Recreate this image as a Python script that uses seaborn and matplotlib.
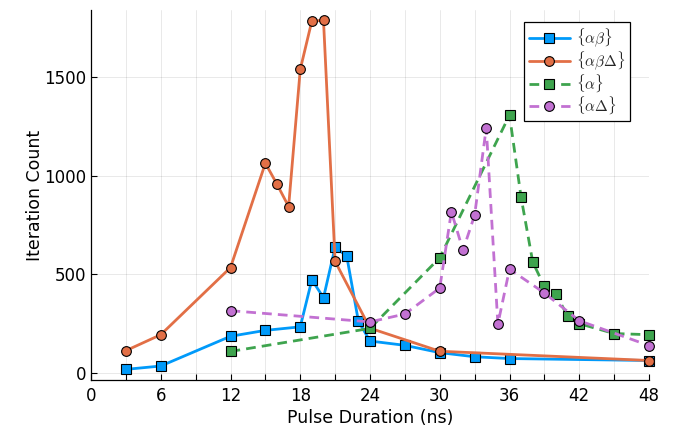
import matplotlib
matplotlib.use("Agg")
import matplotlib.pyplot as plt
import seaborn as sns
import numpy as np
from matplotlib.ticker import MultipleLocator

# Data
x_ab = [3, 6, 12, 15, 18, 19, 20, 21, 22, 23, 24, 27, 30, 33, 36, 48]
y_ab = [16, 33, 184, 214, 232, 471, 380, 637, 591, 261, 160, 138, 101, 80, 71, 61]

x_abd = [3, 6, 12, 15, 16, 17, 18, 19, 20, 21, 24, 30, 48]
y_abd = [111, 192, 533, 1063, 956, 843, 1539, 1786, 1788, 564, 225, 108, 61]

x_a = [12, 24, 30, 36, 37, 38, 39, 40, 41, 42, 45, 48]
y_a = [107, 224, 583, 1307, 889, 561, 437, 400, 285, 248, 198, 192]

x_ad = [12, 24, 27, 30, 31, 32, 33, 34, 35, 36, 39, 42, 48]
y_ad = [314, 257, 297, 429, 817, 621, 799, 1243, 246, 525, 404, 263, 137]

labels = [r"$\{\alpha\beta\}$", r"$\{\alpha\beta\Delta\}$", r"$\{\alpha\}$", r"$\{\alpha\Delta\}$"]
colors = ["#009AFA", "#E26F46", "#3EA44E", "#C271D2"]

sns.set_theme(style="white")
plt.rcParams["font.family"] = ["DejaVu Sans"]
plt.rcParams["mathtext.fontset"] = "cm"

fig, ax = plt.subplots(figsize=(6.76, 4.30), dpi=100)
fig.subplots_adjust(left=91/676, right=649/676, top=1-10/430, bottom=1-380/430)

series = [
    (x_ab, y_ab, "s", None),
    (x_abd, y_abd, "o", None),
    (x_a, y_a, "s", (3.5, 2.2)),
    (x_ad, y_ad, "o", (3.5, 2.2)),
]
for (xs, ys, mk, dash), lab, col in zip(series, labels, colors):
    sns.lineplot(x=xs, y=ys, ax=ax, color=col, marker=mk, markersize=7,
                 markeredgecolor="black", markeredgewidth=0.8, linewidth=2,
                 label=lab, clip_on=False, sort=False)
    line = ax.lines[-1]
    if dash is not None:
        line.set_dashes(dash)

ax.set_xlim(0, 48)
ax.set_ylim(-38, 1841)
ax.xaxis.set_major_locator(MultipleLocator(6))
ax.xaxis.set_minor_locator(MultipleLocator(3))
ax.yaxis.set_major_locator(MultipleLocator(500))
ax.grid(True, which="both", color="black", alpha=0.1, linewidth=0.6)
ax.tick_params(axis="both", which="both", direction="in", length=4, width=0.8,
               colors="black", labelsize=12, bottom=True, left=True)
ax.tick_params(axis="x", pad=5)
for s in ["top", "right"]:
    ax.spines[s].set_visible(False)
for s in ["left", "bottom"]:
    ax.spines[s].set_color("black")
    ax.spines[s].set_linewidth(0.9)

ax.set_xlabel("Pulse Duration (ns)", fontsize=12.5, color="black", labelpad=3)
ax.set_ylabel("Iteration Count", fontsize=12.5, color="black", labelpad=0)

leg = ax.legend(loc="upper right", bbox_to_anchor=(0.966, 0.968), fontsize=11,
                frameon=True, fancybox=False, framealpha=1, edgecolor="black",
                handlelength=2.7, borderpad=0.3, labelspacing=0.0, handletextpad=0.4,
                borderaxespad=0)
leg.get_frame().set_linewidth(0.9)

fig.savefig("out.png", dpi=100)
